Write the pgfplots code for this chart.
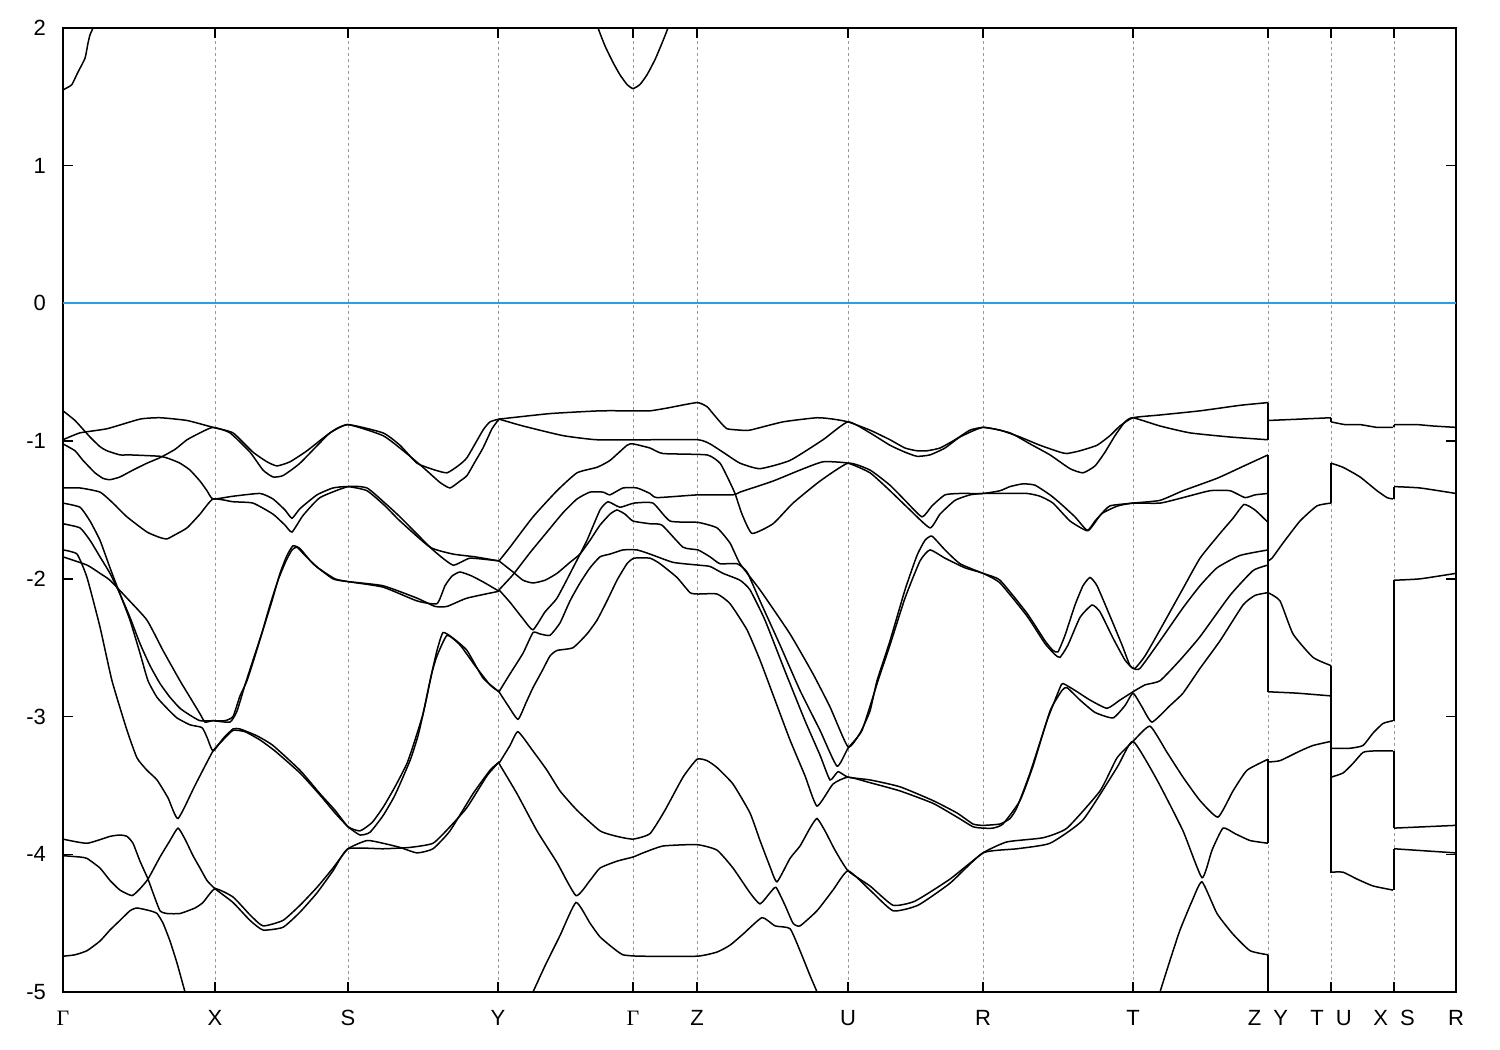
\documentclass[border=0pt]{standalone}
\usepackage{pgfplots}
\pgfplotsset{compat=1.18}
\usepackage{fontspec}
\setmainfont{Liberation Sans}
\newfontfamily\seriffont{Liberation Serif}
\tikzset{band/.style={black, line width=0.75pt, smooth, tension=0.3}}

\begin{document}
\begin{tikzpicture}
\path[use as bounding box] (-31.5pt,-29pt) rectangle (718.5pt,496pt);
\begin{axis}[
  at={(0,0)}, anchor=south west,
  width=696.5pt, height=482pt, scale only axis,
  xmin=63, xmax=1456, ymin=-5, ymax=2,
  xtick={63,215,348,498,633,697,848,983,1133,1268,1331,1394,1456},
  xticklabels={{\seriffont Γ},X,S,Y,{\seriffont Γ},Z,U,R,T,Z\hspace{6pt}Y,T\hspace{6pt}U,X\hspace{6pt}S,R},
  ytick={-5,-4,-3,-2,-1,0,1,2},
  yticklabels={-5,-4,-3,-2,-1,0,1,2},
  tick align=inside,
  major tick length=5pt,
  xmajorgrids,
  grid style={dash pattern=on 1.5pt off 1.5pt, black!40, line width=0.4pt},
  axis line style={line width=0.75pt},
  tick style={line width=0.75pt, black},
  every tick label/.append style={font=\fontsize{11}{13}\selectfont},
  xticklabel style={yshift=-5pt, text height=8pt},
  yticklabel style={xshift=-5pt},
]
\addplot[color={rgb,255:red,40;green,160;blue,230}, line width=1pt, mark=none] coordinates {(63,0) (1456,0)};

% conduction bands
\addplot[band] coordinates {(63,1.55) (68,1.57) (72,1.59) (78,1.68) (85,1.78) (88,1.89) (90,1.95) (93,2.0) (95,2.05)};
\addplot[band] coordinates {(596,2.05) (598,2.0) (605,1.87) (613,1.75) (620,1.66) (627,1.59) (633,1.56) (640,1.59) (647,1.66) (655,1.77) (662,1.89) (668,2.0) (670,2.05)};

% Gamma - X - S - Y, upper bands
\addplot[band] coordinates {(63,-0.78) (75,-0.85) (90,-0.97) (100,-1.04) (107,-1.07) (120,-1.10) (130,-1.10) (160,-1.11) (170,-1.13) (180,-1.16) (190,-1.21) (200,-1.29) (207,-1.36) (213,-1.42)
 (233,-1.40) (260,-1.38) (273,-1.42) (285,-1.50) (292,-1.56) (300,-1.49) (317,-1.39) (333,-1.34) (348,-1.33)
 (367,-1.36) (385,-1.47) (400,-1.58) (430,-1.77) (453,-1.82) (475,-1.84) (499,-1.87)};
\addplot[band] coordinates {(63,-0.99) (80,-0.94) (107,-0.91) (140,-0.84) (160,-0.83) (187,-0.85) (213,-0.90)
 (233,-0.94) (253,-1.08) (267,-1.15) (277,-1.18) (290,-1.15) (307,-1.07) (330,-0.94) (348,-0.88)
 (383,-0.94) (400,-1.03) (417,-1.16) (435,-1.21) (447,-1.23) (458,-1.18) (467,-1.12) (483,-0.92) (490,-0.86) (499,-0.84)};
\addplot[band] coordinates {(63,-1.02) (75,-1.07) (83,-1.14) (95,-1.23) (103,-1.27) (110,-1.28) (120,-1.26) (133,-1.21) (147,-1.16) (160,-1.12) (175,-1.06) (187,-0.99) (200,-0.94) (213,-0.90)
 (230,-0.94) (250,-1.08) (263,-1.21) (273,-1.26) (283,-1.25) (300,-1.16) (330,-0.94) (348,-0.88)
 (383,-0.96) (405,-1.08) (423,-1.19) (440,-1.30) (450,-1.34) (460,-1.29) (467,-1.25) (475,-1.15) (483,-1.05) (492,-0.91) (499,-0.84)};
\addplot[band] coordinates {(63,-1.34) (80,-1.34) (100,-1.37) (113,-1.45) (127,-1.55) (147,-1.66) (160,-1.70) (167,-1.71) (175,-1.68) (187,-1.63) (200,-1.53) (213,-1.42)
 (233,-1.44) (253,-1.45) (273,-1.53) (285,-1.61) (292,-1.66) (303,-1.54) (320,-1.41) (348,-1.33)
 (367,-1.34) (385,-1.45) (400,-1.55) (433,-1.79) (453,-1.90) (470,-1.85) (499,-1.87)};

% Gamma - X - S - Y, middle bands
\addplot[band] coordinates {(63,-1.60) (80,-1.63) (90,-1.72) (100,-1.84) (110,-1.96) (120,-2.11) (130,-2.28) (140,-2.47) (150,-2.63) (160,-2.76) (170,-2.86) (180,-2.94) (190,-2.99) (200,-3.03) (213,-3.03)
 (225,-3.03) (233,-3.00) (240,-2.85) (247,-2.74) (255,-2.56) (263,-2.37) (272,-2.16) (280,-1.96) (287,-1.83) (293,-1.76) (300,-1.78) (313,-1.89) (333,-2.00) (348,-2.02)
 (383,-2.05) (417,-2.14) (435,-2.20) (447,-2.20) (467,-2.14) (499,-2.09)};
\addplot[band] coordinates {(63,-1.84) (87,-1.90) (100,-1.96) (110,-2.01) (127,-2.14) (147,-2.30) (163,-2.52) (180,-2.74) (190,-2.86) (200,-2.98) (205,-3.04) (213,-3.03)
 (230,-3.04) (237,-2.96) (245,-2.77) (253,-2.59) (262,-2.39) (270,-2.19) (278,-2.01) (286,-1.87) (292,-1.79) (297,-1.77) (305,-1.83) (318,-1.92) (335,-2.00) (348,-2.02)
 (383,-2.06) (417,-2.16) (437,-2.18) (445,-2.05) (452,-1.98) (460,-1.95) (472,-1.98) (485,-2.03) (499,-2.09)};
\addplot[band] coordinates {(63,-1.45) (80,-1.48) (90,-1.58) (100,-1.72) (110,-1.92) (120,-2.11) (130,-2.30) (140,-2.54) (148,-2.74) (157,-2.86) (167,-2.94) (177,-3.01) (190,-3.06) (202,-3.08) (207,-3.15) (213,-3.25)
 (223,-3.16) (233,-3.09) (240,-3.09) (257,-3.14) (273,-3.21) (300,-3.39) (320,-3.56) (335,-3.68) (348,-3.80)
 (360,-3.83) (372,-3.77) (383,-3.66) (395,-3.51) (407,-3.34) (415,-3.17) (423,-2.98) (430,-2.74) (437,-2.52) (443,-2.39) (453,-2.43) (467,-2.52) (483,-2.72) (499,-2.82)};
\addplot[band] coordinates {(63,-1.79) (77,-1.82) (87,-1.99) (100,-2.35) (112,-2.74) (127,-3.10) (137,-3.30) (147,-3.39) (157,-3.46) (168,-3.59) (178,-3.74) (195,-3.50) (213,-3.25)
 (223,-3.17) (233,-3.10) (245,-3.11) (260,-3.17) (275,-3.25) (300,-3.41) (320,-3.57) (335,-3.70) (348,-3.80)
 (360,-3.86) (370,-3.84) (383,-3.72) (395,-3.57) (410,-3.32) (418,-3.14) (425,-2.92) (432,-2.68) (437,-2.56) (447,-2.41) (460,-2.48) (475,-2.63) (490,-2.77) (499,-2.82)};

% Gamma - X - S - Y, lower bands
\addplot[band] coordinates {(63,-3.89) (87,-3.92) (110,-3.87) (120,-3.86) (127,-3.87) (133,-3.92) (140,-4.05) (148,-4.18) (153,-4.28) (160,-4.41) (167,-4.43) (180,-4.43) (195,-4.39) (203,-4.35) (215,-4.25)
 (233,-4.31) (250,-4.44) (263,-4.52) (283,-4.48) (300,-4.37) (317,-4.24) (333,-4.10) (348,-3.96)
 (367,-3.90) (383,-3.92) (400,-3.95) (417,-3.99) (433,-3.96) (450,-3.83) (473,-3.56) (490,-3.39) (499,-3.33)};
\addplot[band] coordinates {(63,-4.01) (80,-4.02) (87,-4.03) (100,-4.10) (110,-4.19) (120,-4.26) (132,-4.30) (140,-4.25) (148,-4.18) (160,-4.02) (170,-3.90) (178,-3.81) (185,-3.89) (193,-4.01) (200,-4.10) (207,-4.19) (215,-4.25)
 (233,-4.35) (250,-4.48) (263,-4.55) (283,-4.53) (300,-4.42) (317,-4.28) (333,-4.12) (348,-3.96)
 (383,-3.96) (410,-3.95) (433,-3.92) (450,-3.80) (467,-3.66) (487,-3.43) (499,-3.33)};
\addplot[band] coordinates {(63,-4.74) (75,-4.73) (87,-4.70) (100,-4.63) (110,-4.55) (120,-4.48) (130,-4.41) (137,-4.39) (150,-4.41) (157,-4.43) (163,-4.50) (170,-4.63) (177,-4.79) (185,-5.00) (187,-5.06)};

% Y - Gamma - Z - U - R - T - Z
\addplot[band] coordinates {(499,-0.84) (550,-0.80) (600,-0.78) (633,-0.78) (650,-0.78) (667,-0.76) (697,-0.72) (707,-0.75) (713,-0.80) (720,-0.86) (727,-0.91) (740,-0.92) (750,-0.92) (783,-0.86) (817,-0.83) (833,-0.84) (848,-0.86)
 (870,-0.92) (890,-0.99) (905,-1.05) (917,-1.07) (927,-1.07) (940,-1.05) (955,-0.99) (970,-0.92) (983,-0.90)
 (1000,-0.92) (1020,-0.97) (1040,-1.03) (1060,-1.08) (1067,-1.09) (1080,-1.07) (1097,-1.03) (1110,-0.96) (1120,-0.89) (1133,-0.83)
 (1160,-0.81) (1200,-0.78) (1240,-0.74) (1268,-0.72)};
\addplot[band] coordinates {(499,-0.84) (523,-0.89) (563,-0.96) (597,-0.99) (647,-0.99) (698,-0.99) (710,-1.02) (725,-1.09) (740,-1.16) (760,-1.20) (790,-1.14) (823,-0.99) (848,-0.86)
 (870,-0.94) (890,-1.03) (905,-1.08) (917,-1.11) (930,-1.10) (945,-1.05) (960,-0.97) (983,-0.90)
 (1010,-0.94) (1030,-1.02) (1050,-1.10) (1070,-1.20) (1083,-1.23) (1095,-1.18) (1105,-1.08) (1115,-0.96) (1125,-0.86) (1133,-0.83)
 (1160,-0.89) (1190,-0.94) (1230,-0.97) (1268,-0.99)};
\addplot[band] coordinates {(499,-1.87) (510,-1.77) (533,-1.55) (557,-1.36) (577,-1.23) (597,-1.19) (610,-1.14) (627,-1.03) (633,-1.02) (650,-1.05) (663,-1.09) (707,-1.10) (720,-1.16) (728,-1.27) (735,-1.38) (742,-1.53) (752,-1.67) (773,-1.60) (793,-1.45) (820,-1.29) (848,-1.16)
 (870,-1.21) (890,-1.32) (905,-1.43) (922,-1.55) (932,-1.47) (945,-1.39) (960,-1.38) (983,-1.38)
 (1000,-1.36) (1010,-1.33) (1023,-1.31) (1035,-1.32) (1050,-1.39) (1060,-1.45) (1075,-1.55) (1088,-1.65) (1100,-1.54) (1110,-1.47) (1133,-1.45)
 (1160,-1.43) (1183,-1.36) (1217,-1.27) (1244,-1.18) (1268,-1.10)};
\addplot[band] coordinates {(499,-2.08) (513,-1.97) (530,-1.81) (547,-1.66) (563,-1.52) (577,-1.42) (590,-1.37) (603,-1.37) (610,-1.39) (623,-1.34) (637,-1.34) (650,-1.38) (657,-1.41) (698,-1.39) (733,-1.39) (740,-1.37) (773,-1.29) (800,-1.21) (823,-1.15) (848,-1.16)
 (870,-1.23) (890,-1.36) (910,-1.50) (930,-1.63) (940,-1.53) (955,-1.43) (970,-1.39) (983,-1.38)
 (1000,-1.38) (1027,-1.38) (1040,-1.40) (1053,-1.45) (1070,-1.58) (1087,-1.65) (1095,-1.58) (1103,-1.52) (1118,-1.47) (1133,-1.45)
 (1160,-1.45) (1183,-1.41) (1210,-1.36) (1230,-1.36) (1245,-1.41) (1255,-1.39) (1268,-1.38)};
\addplot[band] coordinates {(499,-1.87) (513,-1.95) (523,-2.01) (533,-2.03) (545,-2.01) (557,-1.96) (570,-1.88) (580,-1.82) (590,-1.72) (600,-1.61) (610,-1.53) (617,-1.50) (625,-1.53) (633,-1.58) (650,-1.60) (662,-1.61) (683,-1.77) (698,-1.79) (710,-1.84) (720,-1.89) (737,-1.89)
 (747,-1.95) (760,-2.16) (780,-2.48) (800,-2.81) (820,-3.10) (837,-3.36) (848,-3.23)
 (862,-3.10) (878,-2.74) (890,-2.48) (905,-2.14) (920,-1.87) (930,-1.79) (945,-1.85) (965,-1.92) (983,-1.96)
 (1000,-2.03) (1027,-2.27) (1045,-2.47) (1055,-2.55) (1060,-2.57) (1068,-2.48) (1080,-2.28) (1092,-2.19) (1100,-2.24) (1113,-2.43) (1125,-2.59) (1133,-2.65) (1140,-2.65)
 (1160,-2.45) (1183,-2.21) (1200,-2.05) (1217,-1.92) (1240,-1.83) (1268,-1.79)};
\addplot[band] coordinates {(499,-2.08) (510,-2.17) (523,-2.29) (533,-2.37) (545,-2.24) (557,-2.14) (573,-1.92) (587,-1.72) (600,-1.50) (608,-1.44) (620,-1.48) (634,-1.45) (653,-1.45) (670,-1.58) (698,-1.59) (717,-1.63) (730,-1.74) (740,-1.89)
 (760,-2.08) (790,-2.40) (813,-2.69) (830,-2.93) (848,-3.22)
 (860,-3.12) (870,-2.96) (877,-2.74) (890,-2.45) (905,-2.08) (917,-1.83) (925,-1.72) (932,-1.69) (945,-1.79) (960,-1.89) (983,-1.96)
 (1000,-2.01) (1027,-2.25) (1045,-2.45) (1053,-2.52) (1058,-2.53) (1065,-2.41) (1075,-2.19) (1083,-2.05) (1090,-1.99) (1097,-2.05) (1110,-2.27) (1122,-2.48) (1130,-2.63) (1135,-2.65)
 (1145,-2.56) (1160,-2.37) (1183,-2.07) (1200,-1.85) (1220,-1.67) (1233,-1.56) (1244,-1.46) (1255,-1.50) (1268,-1.59)};
\addplot[band] coordinates {(499,-2.82) (510,-2.69) (523,-2.54) (533,-2.39) (540,-2.40) (550,-2.41) (560,-2.32) (570,-2.16) (580,-2.03) (590,-1.92) (600,-1.84) (610,-1.82) (623,-1.79) (637,-1.79) (650,-1.82) (673,-1.88) (698,-1.90) (710,-1.91) (723,-1.96) (740,-2.01)
 (750,-2.08) (765,-2.30) (785,-2.67) (805,-3.03) (820,-3.28) (830,-3.46) (838,-3.40) (848,-3.44)
 (870,-3.46) (900,-3.51) (933,-3.61) (957,-3.70) (973,-3.78) (983,-3.79)
 (1000,-3.78) (1010,-3.74) (1017,-3.66) (1030,-3.41) (1047,-3.03) (1060,-2.79) (1063,-2.76) (1075,-2.81) (1090,-2.88) (1107,-2.94) (1120,-2.88) (1133,-2.82)
 (1145,-2.77) (1160,-2.74) (1180,-2.59) (1200,-2.42) (1230,-2.12) (1253,-1.94) (1268,-1.90)};
\addplot[band] coordinates {(499,-2.82) (508,-2.92) (518,-3.02) (526,-2.90) (533,-2.79) (542,-2.67) (550,-2.56) (557,-2.52) (573,-2.50) (587,-2.40) (597,-2.30) (607,-2.16) (617,-2.01) (627,-1.89) (634,-1.85) (650,-1.85) (660,-1.89) (677,-1.99) (690,-2.10) (698,-2.11) (717,-2.11) (730,-2.18)
 (747,-2.37) (760,-2.59) (775,-2.88) (790,-3.17) (805,-3.43) (817,-3.65) (833,-3.49) (848,-3.44)
 (870,-3.48) (900,-3.54) (933,-3.63) (957,-3.73) (973,-3.80) (983,-3.81)
 (993,-3.81) (1003,-3.78) (1020,-3.61) (1033,-3.36) (1050,-2.96) (1062,-2.81) (1067,-2.79) (1080,-2.88) (1095,-2.97) (1113,-3.01) (1125,-2.92) (1133,-2.83)
 (1142,-2.93) (1152,-3.04) (1170,-2.92) (1183,-2.83) (1200,-2.65) (1220,-2.45) (1243,-2.19) (1255,-2.12) (1268,-2.10)};
\addplot[band] coordinates {(499,-3.34) (510,-3.21) (518,-3.11) (533,-3.25) (547,-3.39) (560,-3.54) (577,-3.68) (600,-3.83) (617,-3.87) (633,-3.89) (650,-3.85) (665,-3.68) (683,-3.44) (697,-3.31) (707,-3.32) (717,-3.37) (733,-3.49) (750,-3.70) (760,-3.90) (770,-4.09) (777,-4.20)
 (790,-4.03) (800,-3.94) (810,-3.81) (817,-3.74) (825,-3.83) (835,-3.97) (848,-4.12)
 (870,-4.23) (893,-4.37) (915,-4.34) (950,-4.18) (983,-3.99)
 (1007,-3.91) (1043,-3.88) (1067,-3.81) (1100,-3.54) (1117,-3.30) (1133,-3.18)
 (1150,-3.07) (1167,-3.26) (1183,-3.44) (1200,-3.61) (1218,-3.73) (1233,-3.54) (1247,-3.39) (1268,-3.31)};
\addplot[band] coordinates {(499,-3.34) (517,-3.56) (537,-3.83) (557,-4.06) (576,-4.30) (590,-4.19) (600,-4.10) (617,-4.05) (633,-4.02) (643,-3.99) (663,-3.94) (697,-3.93) (717,-3.97) (733,-4.10) (750,-4.28) (760,-4.36) (770,-4.28) (776,-4.24)
 (785,-4.37) (793,-4.50) (800,-4.52) (817,-4.41) (833,-4.26) (848,-4.12)
 (870,-4.26) (893,-4.41) (918,-4.37) (950,-4.21) (983,-3.99)
 (1017,-3.96) (1050,-3.92) (1083,-3.75) (1117,-3.37) (1133,-3.18)
 (1157,-3.46) (1183,-3.83) (1202,-4.17) (1212,-3.97) (1223,-3.81) (1235,-3.85) (1250,-3.90) (1268,-3.92)};
\addplot[band] coordinates {(529,-5.06) (533,-5.00) (545,-4.81) (560,-4.59) (576,-4.35) (590,-4.50) (600,-4.60) (613,-4.68) (623,-4.73) (640,-4.74) (697,-4.74) (717,-4.71) (730,-4.66) (743,-4.58) (762,-4.46) (775,-4.52) (790,-4.54) (800,-4.70) (810,-4.88) (817,-5.00) (819,-5.06)};
\addplot[band] coordinates {(1158,-5.06) (1160,-5.00) (1170,-4.77) (1180,-4.55) (1192,-4.34) (1202,-4.20) (1217,-4.43) (1233,-4.58) (1250,-4.70) (1268,-4.73)};

% Z | Y jumps and the Y - T segment
\addplot[band] coordinates {(1268,-0.72) (1268,-0.99)};
\addplot[band] coordinates {(1268,-1.10) (1268,-2.82)};
\addplot[band] coordinates {(1268,-3.31) (1268,-3.92)};
\addplot[band] coordinates {(1268,-4.73) (1268,-5.06)};
\addplot[band] coordinates {(1268,-0.85) (1300,-0.84) (1331,-0.83)};
\addplot[band] coordinates {(1268,-1.87) (1272,-1.85) (1283,-1.74) (1300,-1.58) (1317,-1.47) (1331,-1.45)};
\addplot[band] coordinates {(1268,-2.10) (1280,-2.16) (1293,-2.40) (1313,-2.57) (1331,-2.63)};
\addplot[band] coordinates {(1268,-2.82) (1297,-2.83) (1331,-2.85)};
\addplot[band] coordinates {(1268,-3.33) (1280,-3.32) (1300,-3.25) (1313,-3.21) (1331,-3.18)};
% T | U jumps and the U - X segment
\addplot[band] coordinates {(1331,-0.83) (1331,-0.86)};
\addplot[band] coordinates {(1331,-1.16) (1331,-1.45)};
\addplot[band] coordinates {(1331,-2.63) (1331,-4.13)};
\addplot[band] coordinates {(1331,-0.86) (1345,-0.88) (1360,-0.88) (1377,-0.90) (1393,-0.90)};
\addplot[band] coordinates {(1331,-1.16) (1343,-1.19) (1360,-1.26) (1377,-1.36) (1387,-1.41) (1393,-1.42)};
\addplot[band] coordinates {(1331,-3.23) (1350,-3.23) (1363,-3.21) (1373,-3.12) (1383,-3.05) (1393,-3.03)};
\addplot[band] coordinates {(1331,-3.44) (1343,-3.41) (1353,-3.34) (1363,-3.26) (1373,-3.25) (1393,-3.25)};
\addplot[band] coordinates {(1331,-4.13) (1343,-4.13) (1357,-4.18) (1373,-4.23) (1393,-4.26)};
% X | S jumps and the S - R segment
\addplot[band] coordinates {(1394,-0.90) (1394,-0.88)};
\addplot[band] coordinates {(1394,-1.33) (1394,-1.42)};
\addplot[band] coordinates {(1394,-2.01) (1394,-3.03)};
\addplot[band] coordinates {(1394,-3.25) (1394,-3.81)};
\addplot[band] coordinates {(1394,-3.96) (1394,-4.26)};
\addplot[band] coordinates {(1394,-0.88) (1417,-0.88) (1433,-0.89) (1456,-0.90)};
\addplot[band] coordinates {(1394,-1.33) (1420,-1.34) (1456,-1.38)};
\addplot[band] coordinates {(1394,-2.01) (1420,-2.00) (1456,-1.96)};
\addplot[band] coordinates {(1394,-3.81) (1456,-3.79)};
\addplot[band] coordinates {(1394,-3.96) (1456,-3.99)};
\end{axis}
\end{tikzpicture}
\end{document}
